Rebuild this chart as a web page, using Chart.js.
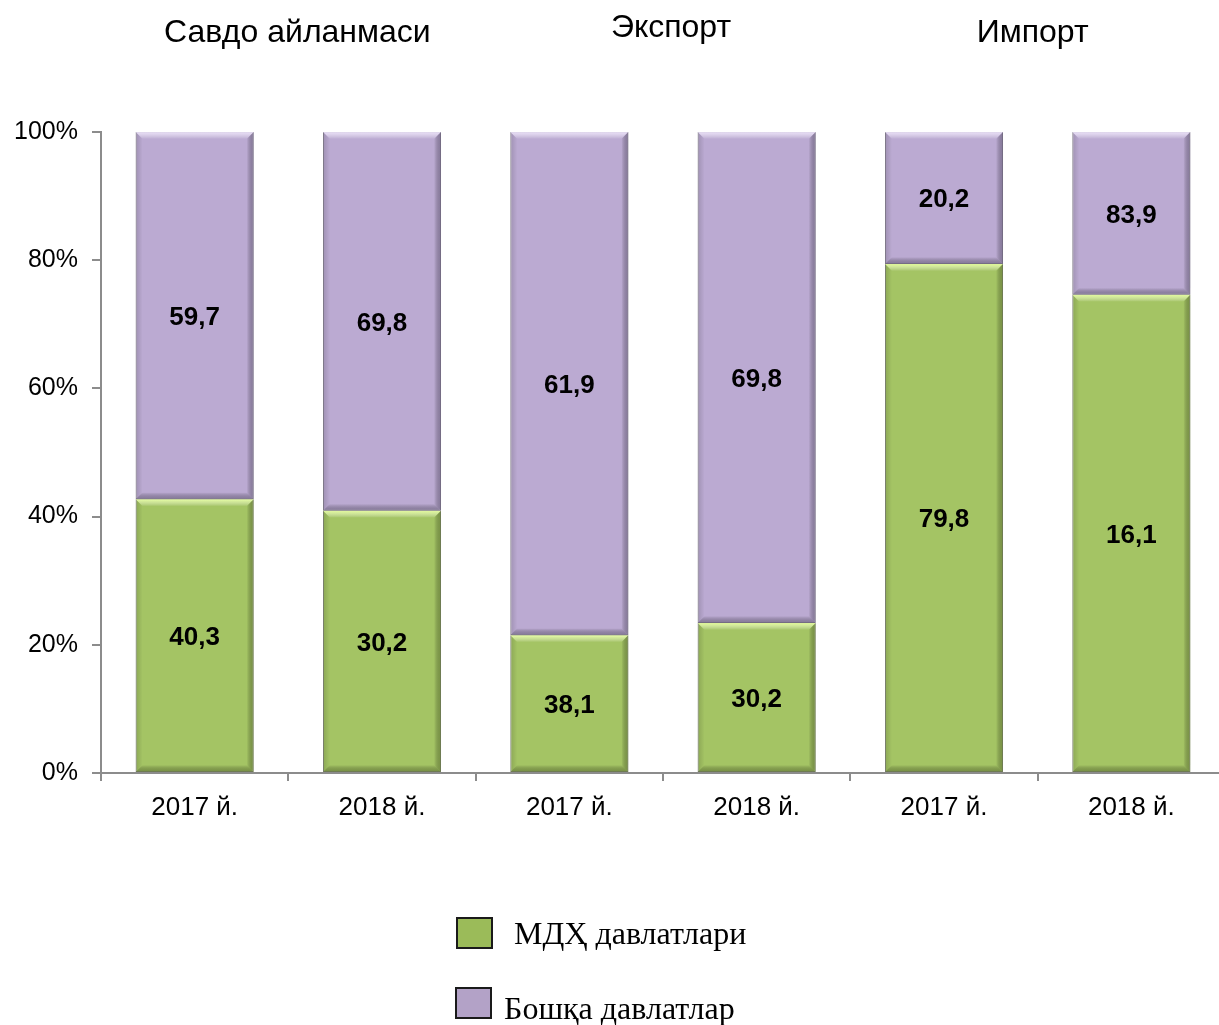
<!DOCTYPE html>
<html>
  <head>
    <meta charset="utf-8" />
    <title>МДҲ ва бошқа давлатлар улуши</title>
    <script src="https://cdn.jsdelivr.net/npm/chart.js"></script>
    <style>
      body {
        margin: 0;
        background: #fff;
        overflow: hidden;
      }
      #wrap {
        position: relative;
        width: 1219px;
        height: 1025px;
        overflow: hidden;
      }
      .legend-item {
        position: absolute;
        font-family: "Liberation Serif", "Times New Roman", serif;
        font-size: 32px;
        line-height: 36px;
        color: #000;
        white-space: nowrap;
      }
      .legend-box {
        position: absolute;
        border: 2px solid #1a1a1a;
        box-sizing: border-box;
      }
    </style>
  </head>
  <body>
    <div id="wrap">
      <canvas id="chart" width="1230" height="1025"></canvas>
      <div class="legend-box" id="box0" style="left: 456px; top: 917px; width: 37px; height: 32px"></div>
      <div class="legend-item" id="lbl0" style="left: 514px; top: 915px"></div>
      <div class="legend-box" id="box1" style="left: 455px; top: 987px; width: 37px; height: 32px"></div>
      <div class="legend-item" id="lbl1" style="left: 504px; top: 990px"></div>
    </div>

    <script>
      const categories = ["2017 й.", "2018 й.", "2017 й.", "2018 й.", "2017 й.", "2018 й."];
      const groupTitles = ["Савдо айланмаси", "Экспорт", "Импорт"];
      const seriesNames = ["МДҲ давлатлари", "Бошқа давлатлар"];

      // bar heights (share, %) as drawn in the picture
      const cisShare = [42.7, 40.9, 21.5, 23.4, 79.4, 74.6];
      const otherShare = [57.3, 59.1, 78.5, 76.6, 20.6, 25.4];

      // value labels printed on the bars
      const cisLabels = ["40,3", "30,2", "38,1", "30,2", "79,8", "16,1"];
      const otherLabels = ["59,7", "69,8", "61,9", "69,8", "20,2", "83,9"];

      const yTicks = [0, 20, 40, 60, 80, 100];

      const green = "#A4C464";
      const purple = "#BBAAD2";
      const legendGreen = "#9BBB59";
      const legendPurple = "#B3A2C7";

      document.getElementById("lbl0").textContent = seriesNames[0];
      document.getElementById("lbl1").textContent = seriesNames[1];
      document.getElementById("box0").style.background = legendGreen;
      document.getElementById("box1").style.background = legendPurple;

      // bevel look of the bars
      const bevelPlugin = {
        id: "bevel",
        afterDatasetsDraw(chart) {
          const ctx = chart.ctx;
          const shades = [
            { light: "rgba(228,255,150,0.95)", dark: "rgba(90,110,45,0.55)" },
            { light: "rgba(238,228,252,0.9)", dark: "rgba(95,85,115,0.55)" },
          ];
          chart.data.datasets.forEach((ds, di) => {
            const meta = chart.getDatasetMeta(di);
            meta.data.forEach((bar) => {
              const l = bar.x - bar.width / 2;
              const r = bar.x + bar.width / 2;
              const t = Math.min(bar.y, bar.base);
              const b = Math.max(bar.y, bar.base);
              const e = 7;
              ctx.save();
              // top highlight
              let g = ctx.createLinearGradient(0, t, 0, t + e);
              g.addColorStop(0, shades[di].light);
              g.addColorStop(1, "rgba(255,255,255,0)");
              ctx.fillStyle = g;
              ctx.beginPath();
              ctx.moveTo(l, t);
              ctx.lineTo(r, t);
              ctx.lineTo(r - e, t + e);
              ctx.lineTo(l + e, t + e);
              ctx.closePath();
              ctx.fill();
              // bottom shade
              g = ctx.createLinearGradient(0, b, 0, b - e);
              g.addColorStop(0, shades[di].dark);
              g.addColorStop(1, "rgba(0,0,0,0)");
              ctx.fillStyle = g;
              ctx.beginPath();
              ctx.moveTo(l, b);
              ctx.lineTo(r, b);
              ctx.lineTo(r - e, b - e);
              ctx.lineTo(l + e, b - e);
              ctx.closePath();
              ctx.fill();
              // sides
              g = ctx.createLinearGradient(r, 0, r - e, 0);
              g.addColorStop(0, shades[di].dark);
              g.addColorStop(1, "rgba(0,0,0,0)");
              ctx.fillStyle = g;
              ctx.beginPath();
              ctx.moveTo(r, t);
              ctx.lineTo(r, b);
              ctx.lineTo(r - e, b - e);
              ctx.lineTo(r - e, t + e);
              ctx.closePath();
              ctx.fill();
              g = ctx.createLinearGradient(l, 0, l + e, 0);
              g.addColorStop(0, "rgba(0,0,0,0.15)");
              g.addColorStop(1, "rgba(0,0,0,0)");
              ctx.fillStyle = g;
              ctx.beginPath();
              ctx.moveTo(l, t);
              ctx.lineTo(l, b);
              ctx.lineTo(l + e, b - e);
              ctx.lineTo(l + e, t + e);
              ctx.closePath();
              ctx.fill();
              ctx.restore();
            });
          });
        },
      };

      // value labels + group titles
      const textPlugin = {
        id: "texts",
        afterDraw(chart) {
          const ctx = chart.ctx;
          const labels = [cisLabels, otherLabels];
          ctx.save();
          ctx.fillStyle = "#000";
          ctx.textAlign = "center";
          ctx.textBaseline = "middle";
          ctx.font = "bold 26px 'Liberation Sans', Arial, sans-serif";
          chart.data.datasets.forEach((ds, di) => {
            chart.getDatasetMeta(di).data.forEach((bar, i) => {
              ctx.fillText(labels[di][i], bar.x, (bar.y + bar.base) / 2 + 2);
            });
          });

          const x = chart.scales.x;
          const shift = [9, 8, -5];
          const ty = [33, 28, 33];
          ctx.font = "32px 'Liberation Sans', Arial, sans-serif";
          groupTitles.forEach((t, k) => {
            const cx = (x.getPixelForValue(2 * k) + x.getPixelForValue(2 * k + 1)) / 2;
            ctx.fillText(t, cx + shift[k], ty[k]);
          });
          ctx.restore();
        },
      };

      const axisColor = "#8C8C8C";

      new Chart(document.getElementById("chart"), {
        type: "bar",
        data: {
          labels: categories,
          datasets: [
            {
              label: seriesNames[0],
              data: cisShare,
              backgroundColor: green,
              borderColor: "rgba(90,100,70,0.7)",
              borderWidth: 1,
              borderSkipped: false,
            },
            {
              label: seriesNames[1],
              data: otherShare,
              backgroundColor: purple,
              borderColor: "rgba(100,90,115,0.7)",
              borderWidth: 1,
              borderSkipped: false,
            },
          ],
        },
        options: {
          responsive: false,
          animation: false,
          layout: { padding: { top: 132, right: 5, bottom: 210, left: 0 } },
          datasets: {
            bar: { barPercentage: 0.63, categoryPercentage: 1 },
          },
          plugins: {
            legend: { display: false },
            tooltip: { enabled: false },
          },
          scales: {
            x: {
              stacked: true,
              grid: {
                offset: true,
                drawOnChartArea: false,
                drawTicks: true,
                tickLength: 8,
                color: axisColor,
                lineWidth: 2,
              },
              border: { display: true, color: axisColor, width: 2 },
              ticks: {
                color: "#000",
                padding: 11,
                font: { family: "'Liberation Sans', Arial, sans-serif", size: 26 },
              },
              afterFit(scale) {
                scale.height = 42;
              },
            },
            y: {
              stacked: true,
              min: 0,
              max: 100,
              afterBuildTicks(scale) {
                scale.ticks = yTicks.map((v) => ({ value: v }));
              },
              grid: {
                drawOnChartArea: false,
                drawTicks: true,
                tickLength: 9,
                color: axisColor,
                lineWidth: 2,
              },
              border: { display: true, color: axisColor, width: 2 },
              ticks: {
                color: "#000",
                padding: 14,
                callback: (v) => v + "%",
                font: { family: "'Liberation Sans', Arial, sans-serif", size: 25 },
              },
              afterFit(scale) {
                scale.width = 101;
              },
            },
          },
        },
        plugins: [bevelPlugin, textPlugin],
      });
    </script>
  </body>
</html>
